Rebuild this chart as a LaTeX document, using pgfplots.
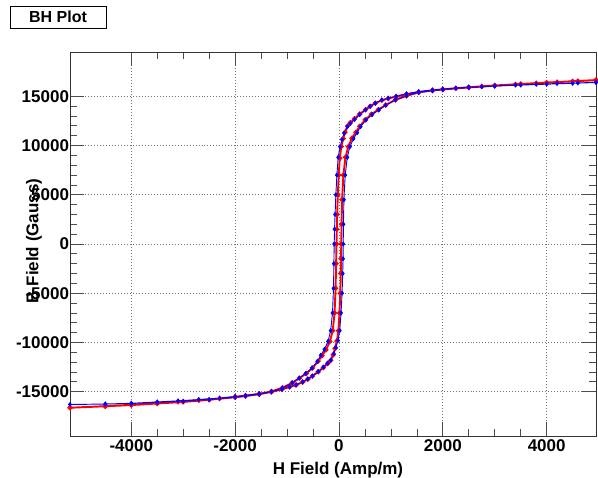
\documentclass[border=0pt]{standalone}
\usepackage{pgfplots}
\pgfplotsset{compat=1.18}
\usepackage{fontspec}
\setmainfont{Liberation Sans}
\begin{document}
\begin{tikzpicture}
\useasboundingbox (0,0) rectangle (598bp,478bp);
\begin{axis}[
  at={(70bp,42bp)}, anchor=south west,
  scale only axis, width=526bp, height=384bp,
  xmin=-5180, xmax=4950, ymin=-19500, ymax=19500,
  xtick={-4000,-2000,0,2000,4000},
  ytick={-15000,-10000,-5000,0,5000,10000,15000},
  minor x tick num=3, minor y tick num=4,
  tick align=inside,
  major tick length=14bp, minor tick length=7bp,
  tick style={black!70, line width=0.7pt},
  axis line style={black!80, line width=0.8pt},
  grid=major,
  major grid style={dash pattern=on 0.8pt off 2.2pt, black!55, line width=0.7pt},
  scaled ticks=false,
  /pgf/number format/assume math mode=true,
  /pgf/number format/1000 sep={},
  ticklabel style={font=\fontsize{17bp}{20bp}\selectfont\bfseries},
  yticklabel style={xshift=2.5bp},
  xlabel={H Field (Amp/m)},
  ylabel={B Field (Gauss)},
  label style={font=\fontsize{17bp}{20bp}\selectfont\bfseries},
  xlabel style={at={(axis description cs:0.5095,-0.099)}, anchor=base},
  ylabel style={at={(axis description cs:-0.0684,0.508)}, anchor=center, rotate=0},
  clip=true,
]
% red loop
\addplot[red, line width=1.9pt, mark=*, mark size=1.5bp, mark options={fill=red}] coordinates {
(4950,16640) (4600,16540) (4200,16440) (3800,16330) (3400,16210) (3000,16080)
(2750,15990) (2500,15900) (2250,15800) (2000,15690) (1800,15590) (1536,15430)
(1300,15220) (1100,14980) (950,14780) (826,14600) (700,14300) (600,13990)
(512,13650) (400,13200) (300,12720) (220,12330) (170,12000) (115,11350)
(80,10700) (45,9900) (15,8700) (-5,7000) (-22,5000) (-35,3000) (-42,1500)
(-48,0) (-55,-2000) (-65,-4500) (-85,-7000) (-120,-8800) (-175,-9900)
(-250,-10750) (-325,-11350) (-400,-11900) (-510,-12600) (-630,-13150)
(-760,-13620) (-900,-14100) (-1088,-14600) (-1300,-14980) (-1536,-15220)
(-1800,-15400) (-2000,-15530) (-2300,-15700) (-2700,-15870) (-3100,-16020)
(-3500,-16150) (-4000,-16330) (-4500,-16470) (-5180,-16630)
(-4500,-16480) (-4000,-16360) (-3500,-16200) (-3000,-16040) (-2500,-15820)
(-2000,-15560) (-1800,-15450) (-1536,-15260) (-1300,-15020) (-1100,-14760)
(-950,-14520) (-826,-14320) (-700,-14030) (-600,-13730) (-512,-13430)
(-400,-12980) (-300,-12550) (-220,-12150) (-160,-11830) (-110,-11250)
(-75,-10600) (-40,-9850) (-10,-8800) (10,-7000) (25,-5000) (35,-3000)
(40,-1500) (44,0) (50,2000) (60,4500) (85,7000) (125,8800) (180,9900)
(250,10750) (325,11350) (400,11950) (505,12620) (625,13170) (760,13650)
(900,14120) (1088,14640) (1300,15050) (1536,15400) (1800,15590) (2000,15700)
(2500,15920) (3000,16100) (3500,16250) (4000,16400) (4500,16530) (4950,16650)
};
% blue loop
\addplot[blue, line width=0.9pt, mark=diamond*, mark size=1.9bp, mark options={fill=blue}] coordinates {
(4950,16420) (4600,16360) (4200,16300) (3800,16220) (3400,16140) (3000,16060)
(2750,15990) (2500,15920) (2250,15840) (2000,15740) (1800,15650) (1536,15480)
(1300,15250) (1100,15000) (950,14800) (826,14630) (700,14300) (600,13980)
(512,13620) (400,13150) (300,12650) (220,12250) (160,11920) (100,11250)
(60,10600) (19,9890) (-15,8800) (-40,7000) (-60,5000) (-75,3000) (-85,1500)
(-92,0) (-98,-2000) (-105,-4500) (-125,-7000) (-160,-8800) (-211,-9890)
(-280,-10700) (-350,-11300) (-416,-11920) (-520,-12600) (-640,-13150)
(-768,-13620) (-900,-14100) (-1088,-14630) (-1300,-15000) (-1536,-15200)
(-1800,-15380) (-2000,-15500) (-2300,-15650) (-2700,-15800) (-3100,-15930)
(-3500,-16040) (-4000,-16180) (-4500,-16250) (-5180,-16300)
(-4500,-16260) (-4000,-16200) (-3500,-16080) (-3000,-15970) (-2500,-15800)
(-2000,-15560) (-1800,-15440) (-1536,-15250) (-1300,-15000) (-1100,-14750)
(-950,-14500) (-826,-14300) (-700,-14000) (-600,-13700) (-512,-13400)
(-400,-12950) (-300,-12500) (-220,-12100) (-160,-11800) (-100,-11150)
(-60,-10500) (-19,-9800) (15,-8800) (40,-7000) (60,-5000) (72,-3000)
(78,-1500) (82,0) (86,2000) (95,4500) (120,7000) (160,8800) (211,9890)
(280,10700) (350,11300) (416,11920) (520,12600) (640,13150) (768,13620)
(900,14100) (1088,14630) (1300,15050) (1536,15400) (1800,15580) (2000,15690)
(2500,15890) (3000,16040) (3500,16140) (4000,16230) (4500,16320) (4950,16400)
};
\end{axis}
\draw[black, line width=0.8pt, fill=white] (10bp,450bp) rectangle (106bp,472bp);
\node[font=\fontsize{16bp}{19bp}\selectfont\bfseries] at (58bp,461bp) {BH Plot};
\end{tikzpicture}
\end{document}
